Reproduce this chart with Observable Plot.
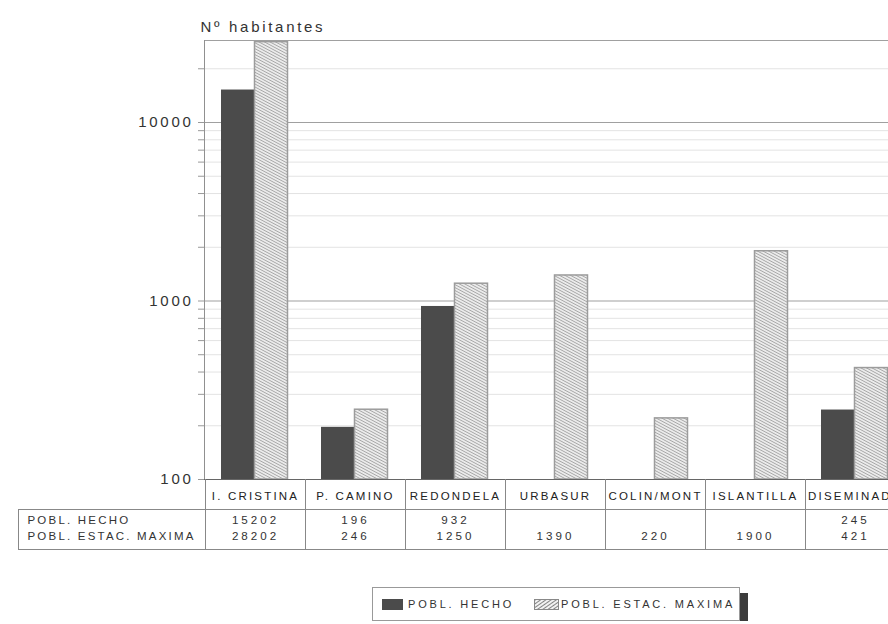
<!DOCTYPE html>
<html>
<head>
<meta charset="utf-8">
<script src="https://cdn.jsdelivr.net/npm/d3@7"></script>
<script src="https://cdn.jsdelivr.net/npm/@observablehq/plot@0.6"></script>
<style>
  body { margin: 0; background: #fff; overflow: hidden; font-family: "Liberation Sans", Arial, sans-serif; }
  #chart svg { display: block; }
  #chart svg text { letter-spacing: 2.7px; }
  /* table labels are set a little tighter than the numbers */
  #chart svg g[font-size="11.5"] text { letter-spacing: 2.2px; }
  #chart svg g[font-size="11.6"] text { letter-spacing: 3px; }
  #legend {
    margin: 27px 0 0 372px; width: 368px; height: 34px; box-sizing: border-box;
    border: 1px solid #999; box-shadow: 8px 6px 0 #3c3c3c; background: #fff;
    display: flex; align-items: center; font-size: 11px; letter-spacing: 2.8px; color: #333;
  }
  #legend .item { display: flex; align-items: center; }
  #legend svg { display: block; }
</style>
</head>
<body>
<div id="chart"></div>
<div id="legend"></div>
<script>
// Municipal nuclei and their populations (census vs. seasonal peak)
const categories = ["I. CRISTINA", "P. CAMINO", "REDONDELA", "URBASUR", "COLIN/MONT", "ISLANTILLA", "DISEMINADO"];
const poblHecho = [15202, 196, 932, null, null, null, 245];
const poblEstacMaxima = [28202, 246, 1250, 1390, 220, 1900, 421];
const seriesNames = ["POBL. HECHO", "POBL. ESTAC. MAXIMA"];
const yLabel = "Nº habitantes";
const yTicks = [100, 1000, 10000];
const yDomain = [100, 28800];

const darkFill = "#4b4b4b";
const hatchId = "hatch-estac";

const rows = categories.flatMap((c, i) => [
  {category: c, series: seriesNames[0], value: poblHecho[i]},
  {category: c, series: seriesNames[1], value: poblEstacMaxima[i]}
]).filter(d => d.value != null);

// minor log gridlines: 2..9 within each decade
const minorTicks = [100, 1000, 10000]
  .flatMap(p => [2, 3, 4, 5, 6, 7, 8, 9].map(m => m * p))
  .filter(v => v <= yDomain[1]);

const hechoCells = categories.map((c, i) => ({c, v: poblHecho[i]})).filter(d => d.v != null);
const estacCells = categories.map((c, i) => ({c, v: poblEstacMaxima[i]})).filter(d => d.v != null);

// fine diagonal hatch used by the seasonal-peak bars
function hatchDefs() {
  const g = d3.create("svg:g");
  const p = g.append("defs").append("pattern")
    .attr("id", hatchId).attr("patternUnits", "userSpaceOnUse")
    .attr("width", 8).attr("height", 2.6).attr("patternTransform", "rotate(28)");
  p.append("rect").attr("width", 8).attr("height", 2.6).attr("fill", "#ececec");
  p.append("line").attr("x1", 0).attr("x2", 8).attr("y1", 1.3).attr("y2", 1.3)
    .attr("stroke", "#9a9a9a").attr("stroke-width", 0.8);
  return g.node();
}

// frame edges and the data table grid beneath the chart
function tableLines(index, {x}, values, {width, height, marginTop, marginLeft, marginBottom}) {
  const y0 = height - marginBottom;
  const rowTop = y0 + 30, rowBottom = y0 + 70, tableLeft = 18;
  const g = d3.create("svg:g").attr("fill", "none").attr("shape-rendering", "crispEdges");
  const line = (x1, y1, x2, y2, stroke) =>
    g.append("line").attr("x1", x1).attr("y1", y1).attr("x2", x2).attr("y2", y2).attr("stroke", stroke);
  line(marginLeft, marginTop, width, marginTop, "#a0a0a0");
  line(marginLeft, marginTop, marginLeft, y0, "#909090");
  line(marginLeft, y0, width, y0, "#666");
  line(tableLeft, rowTop, width, rowTop, "#888");
  line(tableLeft, rowBottom, width, rowBottom, "#888");
  line(tableLeft, rowTop, tableLeft, rowBottom, "#888");
  for (const c of categories) {
    const xe = Math.round(x(c));
    line(xe, y0, xe, rowBottom, "#888");
  }
  const xl = Math.round(x(categories.at(-1)) + x.bandwidth());
  line(xl, y0, xl, rowBottom, "#888");
  return g.node();
}

const plot = Plot.plot({
  width: 888,
  height: 560,
  marginTop: 40,
  marginLeft: 204,
  marginRight: 0,
  marginBottom: 81,
  style: {fontFamily: "'Liberation Sans', Arial, sans-serif", color: "#333", background: "#fff"},
  x: {type: "band", domain: categories, range: [204, 905], padding: 0, axis: null},
  y: {type: "log", domain: yDomain, axis: null},
  marks: [
    hatchDefs,
    Plot.ruleY(minorTicks, {stroke: "#e3e3e3", strokeWidth: 1}),
    Plot.ruleY(yTicks.filter(v => v > yDomain[0]), {stroke: "#a0a0a0", strokeWidth: 1.2}),
    Plot.axisY({ticks: minorTicks, tickSize: 6, tickFormat: () => "", stroke: "#999", label: null}),
    Plot.axisY({ticks: yTicks, tickSize: 6, tickPadding: 5, fontSize: 15, tickFormat: d => String(d), stroke: "#999", fill: "#333", label: null}),
    Plot.text([yLabel], {frameAnchor: "top-left", dx: -4, dy: -19, textAnchor: "start", fontSize: 15, fill: "#333"}),
    Plot.barY(rows.filter(d => d.series === seriesNames[0]), {
      x: "category", y1: yDomain[0], y2: "value", fill: darkFill, insetLeft: 16, insetRight: 51
    }),
    Plot.barY(rows.filter(d => d.series === seriesNames[1]), {
      x: "category", y1: yDomain[0], y2: "value", fill: `url(#${hatchId})`,
      stroke: "#9c9c9c", strokeWidth: 1.5, insetLeft: 49.5, insetRight: 17.5
    }),
    tableLines,
    Plot.text(categories, {x: d => d, text: d => d, frameAnchor: "bottom", dy: 20, fontSize: 11.5, fill: "#222"}),
    Plot.text([seriesNames[0]], {frameAnchor: "bottom-left", dx: -177, dy: 44, textAnchor: "start", fontSize: 11.5, fill: "#333"}),
    Plot.text([seriesNames[1]], {frameAnchor: "bottom-left", dx: -177, dy: 60, textAnchor: "start", fontSize: 11.5, fill: "#333"}),
    Plot.text(hechoCells, {x: "c", text: d => String(d.v), frameAnchor: "bottom", dy: 44, fontSize: 11.6, fill: "#333"}),
    Plot.text(estacCells, {x: "c", text: d => String(d.v), frameAnchor: "bottom", dy: 60, fontSize: 11.6, fill: "#333"})
  ]
});
document.getElementById("chart").append(plot);

// legend below the chart
const legend = d3.select("#legend");
const item1 = legend.append("div").attr("class", "item").style("margin-left", "9px");
item1.append("svg").attr("width", 21).attr("height", 11)
  .append("rect").attr("width", 21).attr("height", 11).attr("fill", darkFill);
item1.append("span").style("margin-left", "5px").text(seriesNames[0]);
const item2 = legend.append("div").attr("class", "item").style("margin-left", "20px");
const sw = item2.append("svg").attr("width", 25).attr("height", 11);
const lp = sw.append("defs").append("pattern").attr("id", "hatch-legend").attr("patternUnits", "userSpaceOnUse")
  .attr("width", 8).attr("height", 3).attr("patternTransform", "rotate(-35)");
lp.append("rect").attr("width", 8).attr("height", 3).attr("fill", "#f2f2f2");
lp.append("line").attr("x1", 0).attr("x2", 8).attr("y1", 1.5).attr("y2", 1.5).attr("stroke", "#777").attr("stroke-width", 0.9);
sw.append("rect").attr("x", 0.5).attr("y", 0.5).attr("width", 24).attr("height", 10)
  .attr("fill", "url(#hatch-legend)").attr("stroke", "#888");
item2.append("span").style("margin-left", "2px").text(seriesNames[1]);
</script>
</body>
</html>
